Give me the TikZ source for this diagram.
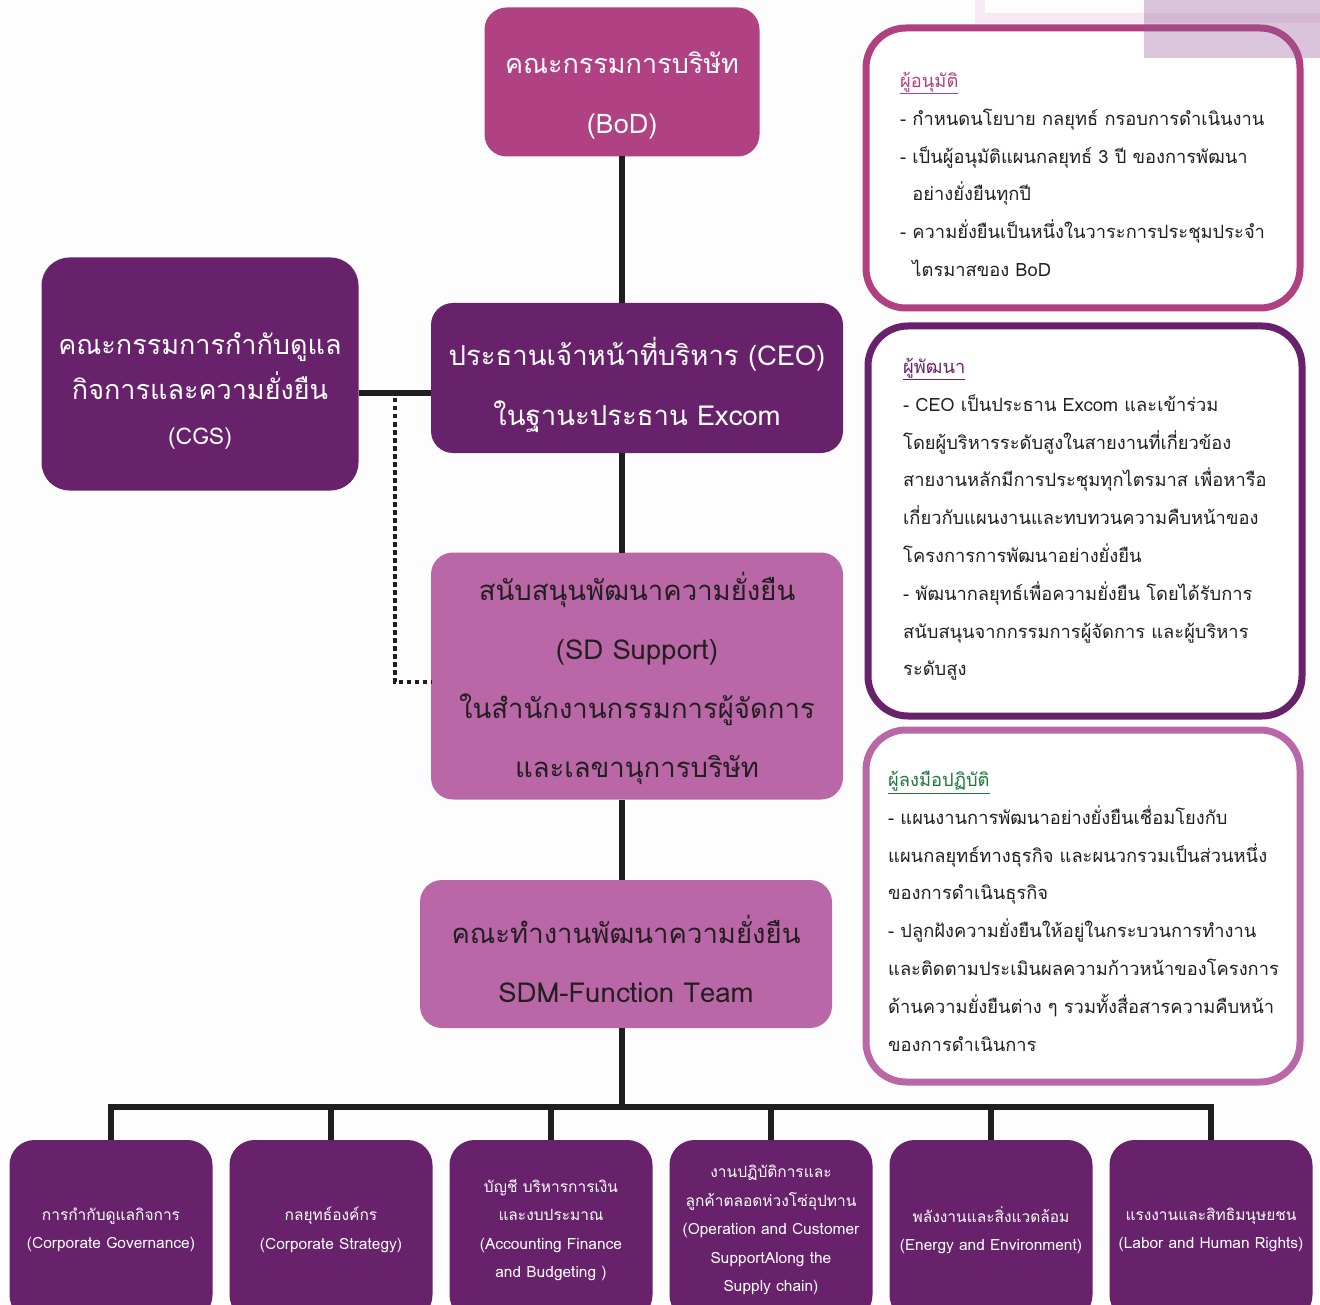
\documentclass[tikz,border=0pt]{standalone}
\usepackage{fontspec}
\setmainfont{Loma}[Script=Thai]
\usepackage{xcolor}
\usepackage{tikz}
\usetikzlibrary{calc}
\usetikzlibrary{positioning}

\definecolor{plum}{RGB}{104,34,108}
\definecolor{bodpink}{RGB}{176,66,132}
\definecolor{orchid}{RGB}{185,103,167}
\definecolor{apprline}{RGB}{176,64,128}
\definecolor{headgreen}{RGB}{30,120,60}
\definecolor{inkgray}{RGB}{35,31,32}
\definecolor{paleline}{RGB}{246,234,244}
\definecolor{veilfill}{RGB}{150,90,150}
\definecolor{pagewhite}{RGB}{253,253,253}

\newcommand{\sizeto}[2]{\fontsize{#1}{#2}\selectfont}

\begin{document}
\begin{tikzpicture}
[
	x = 1pt, y = -1pt,
	box/.style = {rectangle, rounded corners = 22pt, inner sep = 0pt, outer sep = 0pt, align = center},
	board/.style = {box, fill = bodpink, text = white, minimum width = 275pt, font = \sizeto{27}{60}},
	cgs/.style = {box, rounded corners = 28pt, fill = plum, text = white, minimum width = 317pt, font = \sizeto{27}{45}},
	exec/.style = {box, fill = plum, text = white, minimum width = 412pt, font = \sizeto{27.5}{59}},
	team/.style = {box, fill = orchid, text = inkgray, minimum width = 412pt, font = \sizeto{27.5}{59}},
	dept/.style = {box, rounded corners = 25pt, fill = plum, text = white, minimum width = 203pt, minimum height = 180pt, font = \sizeto{15.5}{28.5}},
	role/.style = {rectangle, rounded corners = 40pt, line width = 7pt, fill = white, outer sep = 0pt, minimum width = 434pt},
	roletext/.style = {anchor = north west, align = left, inner sep = 0pt, text = inkgray, font = \sizeto{18.3}{37.8}},
	trunk/.style = {line width = 5.8pt, draw = black!88},
	dotlink/.style = {line width = 4.5pt, draw = black!88, dash pattern = on 4.5pt off 3.5pt},
]

	\path [use as bounding box, clip] (0, 0) rectangle (1320, 1305);
	\fill [pagewhite] (0, 0) rectangle (1320, 1305);

	% corner decoration
	\draw [paleline, line width = 10pt] (980, -30) rectangle (1400, 18);

	% role boxes
	\node (approve) [role, draw = apprline, minimum height = 280pt] at (1083, 168) {};
	\node (develop) [role, draw = plum, minimum height = 390pt] at (1085, 521) {};
	\node (practice) [role, draw = orchid, minimum height = 352pt] at (1083, 906) {};

	\fill [veilfill, opacity = 0.35] (1144, 0) rectangle (1320, 58);

	\node (approvetext) [roletext] at ([xshift = 34pt, yshift = -44pt]approve.north west)
	{{\color{apprline}\underline{ผู้อนุมัติ}}\\
	- กำหนดนโยบาย กลยุทธ์ กรอบการดำเนินงาน\\
	- เป็นผู้อนุมัติแผนกลยุทธ์ 3 ปี ของการพัฒนา\\
	\hphantom{- }อย่างยั่งยืนทุกปี\\
	- ความยั่งยืนเป็นหนึ่งในวาระการประชุมประจำ\\
	\hphantom{- }ไตรมาสของ BoD};

	\node (developtext) [roletext] at ([xshift = 35pt, yshift = -32pt]develop.north west)
	{{\color{plum}\underline{ผู้พัฒนา}}\\
	- CEO เป็นประธาน Excom และเข้าร่วม\\
	โดยผู้บริหารระดับสูงในสายงานที่เกี่ยวข้อง\\
	สายงานหลักมีการประชุมทุกไตรมาส เพื่อหารือ\\
	เกี่ยวกับแผนงานและทบทวนความคืบหน้าของ\\
	โครงการการพัฒนาอย่างยั่งยืน\\
	- พัฒนากลยุทธ์เพื่อความยั่งยืน โดยได้รับการ\\
	สนับสนุนจากกรรมการผู้จัดการ และผู้บริหาร\\
	ระดับสูง};

	\node (practicetext) [roletext] at ([xshift = 22pt, yshift = -41pt]practice.north west)
	{{\color{headgreen}\underline{ผู้ลงมือปฏิบัติ}}\\
	- แผนงานการพัฒนาอย่างยั่งยืนเชื่อมโยงกับ\\
	แผนกลยุทธ์ทางธุรกิจ และผนวกรวมเป็นส่วนหนึ่ง\\
	ของการดำเนินธุรกิจ\\
	- ปลูกฝังความยั่งยืนให้อยู่ในกระบวนการทำงาน\\
	และติดตามประเมินผลความก้าวหน้าของโครงการ\\
	ด้านความยั่งยืนต่าง ๆ รวมทั้งสื่อสารความคืบหน้า\\
	ของการดำเนินการ};

	% chain of command
	\node (BoD) [board, text height = 126pt, text depth = 23pt] at (622, 82) {คณะกรรมการบริษัท\\(BoD)};
	\node (CGS) [cgs, text height = 187pt, text depth = 46pt] at (200, 374) {คณะกรรมการกำกับดูแล\\กิจการและความยั่งยืน\\{\sizeto{23}{45}(CGS)}};
	\node (CEO) [exec, text height = 122pt, text depth = 28pt] at (637, 378) {ประธานเจ้าหน้าที่บริหาร (CEO)\\ในฐานะประธาน Excom};
	\node (SD) [team, text height = 225pt, text depth = 22pt] at (637, 676) {สนับสนุนพัฒนาความยั่งยืน\\(SD Support)\\ในสำนักงานกรรมการผู้จัดการ\\และเลขานุการบริษัท};
	\node (SDM) [team, text height = 122pt, text depth = 26pt] at (626, 954) {คณะทำงานพัฒนาความยั่งยืน\\SDM-Function Team};

	% departments
	\node (dept1) [dept] at (111, 1230) {การกำกับดูแลกิจการ\\(Corporate Governance)};
	\node (dept2) [dept, right = 17pt of dept1] {กลยุทธ์องค์กร\\(Corporate Strategy)};
	\node (dept3) [dept, right = 17pt of dept2] {บัญชี บริหารการเงิน\\และงบประมาณ\\(Accounting Finance\\and Budgeting )};
	\node (dept4) [dept, right = 17pt of dept3] {งานปฏิบัติการและ\\ลูกค้าตลอดห่วงโซ่อุปทาน\\(Operation and Customer\\SupportAlong the\\Supply chain)};
	\node (dept5) [dept, right = 17pt of dept4] {พลังงานและสิ่งแวดล้อม\\(Energy and Environment)};
	\node (dept6) [dept, right = 17pt of dept5] {แรงงานและสิทธิมนุษยชน\\(Labor and Human Rights)};

	% paths
	\coordinate (tap) at ($(CGS.east)!0.5!(CEO.west)$);
	\coordinate (bus) at (622, 1107);
	\draw [trunk] (BoD) -- (BoD |- CEO.north);
	\draw [trunk] (CEO.south -| BoD) -- (SD.north -| BoD);
	\draw [trunk] (SD.south -| BoD) -- (SDM.north -| BoD);
	\draw [trunk] (SDM.south -| BoD) -- (bus);
	\draw [trunk] ([yshift = -19pt]CGS.east) -- ([yshift = -19pt]CGS.east -| CEO.west);
	\draw [dotlink] ([yshift = -22pt]tap) |- ([yshift = -6pt]SD.west);
	%
	\draw [trunk] (dept1.north) |- (bus) -| (dept6.north);
	\foreach \d in {dept2, dept3, dept4, dept5}
		\draw [trunk] (\d.north) -- (\d.north |- bus);

\end{tikzpicture}
\end{document}
